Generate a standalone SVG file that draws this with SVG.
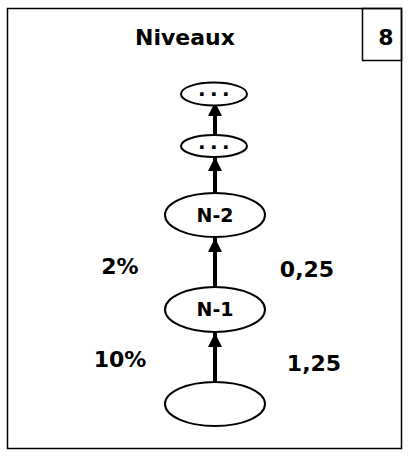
<svg xmlns="http://www.w3.org/2000/svg" width="409" height="456" viewBox="0 0 409 456">
<style>
.t{font-family:"DejaVu Sans",sans-serif;font-weight:bold;fill:#000;text-anchor:middle}
.e{fill:#fff;stroke:#000;stroke-width:2}
.c{stroke:#000;stroke-width:4;fill:none;marker-end:url(#ah)}
</style>
<defs>
<marker id="ah" markerUnits="userSpaceOnUse" markerWidth="14" markerHeight="16" refX="14" refY="7" orient="auto" viewBox="0 0 14 14">
<path d="M0,0 L14,7 L0,14 Z" fill="#000"/>
</marker>
</defs>
<rect x="7.5" y="8.5" width="394" height="440" fill="#fff" stroke="#000" stroke-width="1.5"/>
<rect x="362.5" y="8.5" width="39" height="52" fill="none" stroke="#000" stroke-width="1.5"/>
<text class="t" x="185" y="45" font-size="22">Niveaux</text>
<text class="t" x="386" y="45" font-size="22">8</text>
<g id="connectors">
<line class="c" x1="215" y1="382" x2="215" y2="333"/>
<line class="c" x1="215" y1="287" x2="215" y2="238"/>
<line class="c" x1="215" y1="193" x2="215" y2="157"/>
<line class="c" x1="215" y1="135" x2="215" y2="102"/>
</g>
<g id="n1dots"><ellipse class="e" cx="214" cy="94" rx="33" ry="11.5"/><text class="t" x="216" y="96" font-size="20" letter-spacing="4.4">...</text></g>
<g id="n2dots"><ellipse class="e" cx="214" cy="146" rx="33" ry="11"/><text class="t" x="216" y="149" font-size="20" letter-spacing="4.4">...</text></g>
<g id="nN2"><ellipse class="e" cx="215" cy="215" rx="50" ry="22"/><text class="t" x="215" y="222" font-size="19">N-2</text></g>
<g id="nN1"><ellipse class="e" cx="215" cy="309.5" rx="50" ry="22.5" stroke-width="3"/><text class="t" x="215" y="316" font-size="19">N-1</text></g>
<g id="nBase"><ellipse class="e" cx="215" cy="404" rx="50" ry="22"/></g>
<text class="t" x="120" y="274" font-size="22">2%</text>
<text class="t" x="307" y="277" font-size="22">0,25</text>
<text class="t" x="120" y="367" font-size="22">10%</text>
<text class="t" x="314" y="371" font-size="22">1,25</text>
</svg>
